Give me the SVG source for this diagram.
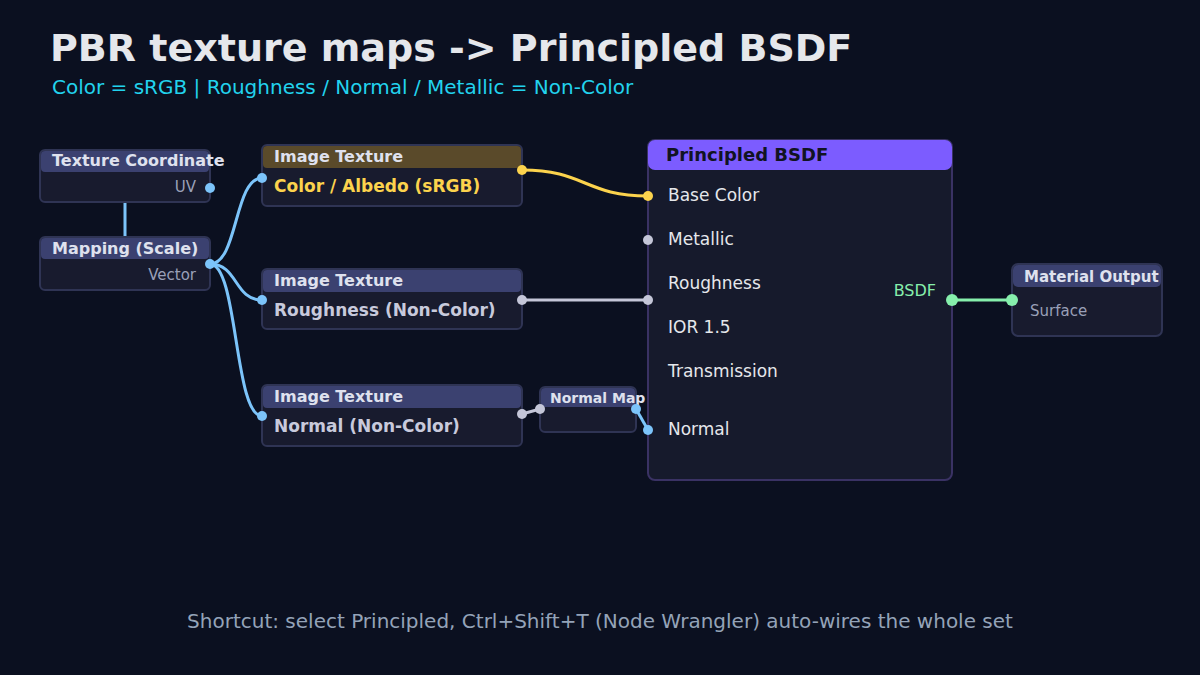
<svg xmlns="http://www.w3.org/2000/svg" width="1200" height="675" viewBox="0 0 1200 675">
<style>
text{font-family:"DejaVu Sans","Liberation Sans",sans-serif}
.hdr{fill:#3b4170}
.body{fill:#181b2e;stroke:#2f3454;stroke-width:2}
.ht{font-size:16px;font-weight:bold;fill:#dfe1ee}
.lbl{font-size:17px;fill:#e5e7eb}
.sub{font-size:15px;fill:#9aa0b8}
.w{fill:none;stroke-width:3}
</style>
<rect width="1200" height="675" fill="#0b1020"/>
<text x="50" y="61" font-size="38" font-weight="bold" fill="#e5e7eb">PBR texture maps -&gt; Principled BSDF</text>
<text x="52" y="94" font-size="20" fill="#22d3ee">Color = sRGB | Roughness / Normal / Metallic = Non-Color</text>

<g id="connectors">
<line x1="125" y1="202" x2="125" y2="237" stroke="#7cc4fa" stroke-width="3"/>
<path class="w" stroke="#7cc4fa" d="M210,264 C238,264 234,178 262,178"/>
<path class="w" stroke="#7cc4fa" d="M210,264 C238,264 234,300 262,300"/>
<path class="w" stroke="#7cc4fa" d="M210,264 C238,264 234,416 262,416"/>
<path class="w" stroke="#fcd34d" d="M522,170 C585,170 585,196 648,196"/>
<line x1="522" y1="300" x2="648" y2="300" stroke="#c4c6d8" stroke-width="3"/>
<line x1="522" y1="414" x2="540" y2="409" stroke="#c4c6d8" stroke-width="3"/>
<line x1="636" y1="409" x2="648" y2="430" stroke="#7cc4fa" stroke-width="3"/>
<line x1="952" y1="300" x2="1012" y2="300" stroke="#86efac" stroke-width="3"/>
</g>

<g id="texcoord">
<rect class="body" x="40" y="150" width="170" height="52" rx="5"/>
<rect class="hdr" x="41" y="151" width="168" height="21" rx="4"/>
<text class="ht" x="52" y="166">Texture Coordinate</text>
<text class="sub" x="196" y="192" text-anchor="end">UV</text>
<circle cx="210" cy="188" r="5" fill="#7cc4fa"/>
</g>

<g id="mapping">
<rect class="body" x="40" y="237" width="170" height="53" rx="5"/>
<rect class="hdr" x="41" y="238" width="168" height="21" rx="4"/>
<text class="ht" x="52" y="254">Mapping (Scale)</text>
<text class="sub" x="196" y="280" text-anchor="end">Vector</text>
<circle cx="210" cy="264" r="5" fill="#7cc4fa"/>
</g>

<g id="img-color">
<rect class="body" x="262" y="145" width="260" height="61" rx="5"/>
<rect x="263" y="146" width="258" height="22" rx="4" fill="#5a4a2a"/>
<text class="ht" x="274" y="162">Image Texture</text>
<text x="274" y="192" font-size="17" font-weight="bold" fill="#fcd34d">Color / Albedo (sRGB)</text>
<circle cx="262" cy="178" r="5" fill="#7cc4fa"/>
<circle cx="522" cy="170" r="5" fill="#fcd34d"/>
</g>

<g id="img-rough">
<rect class="body" x="262" y="269" width="260" height="60" rx="5"/>
<rect class="hdr" x="263" y="270" width="258" height="22" rx="4"/>
<text class="ht" x="274" y="286">Image Texture</text>
<text x="274" y="316" font-size="17" font-weight="bold" fill="#c8cadc">Roughness (Non-Color)</text>
<circle cx="262" cy="300" r="5" fill="#7cc4fa"/>
<circle cx="522" cy="300" r="5" fill="#c4c6d8"/>
</g>

<g id="img-normal">
<rect class="body" x="262" y="385" width="260" height="61" rx="5"/>
<rect class="hdr" x="263" y="386" width="258" height="22" rx="4"/>
<text class="ht" x="274" y="402">Image Texture</text>
<text x="274" y="432" font-size="17" font-weight="bold" fill="#c8cadc">Normal (Non-Color)</text>
<circle cx="262" cy="416" r="5" fill="#7cc4fa"/>
<circle cx="522" cy="414" r="5" fill="#c4c6d8"/>
</g>

<g id="normalmap">
<rect class="body" x="540" y="387" width="96" height="45" rx="5"/>
<rect class="hdr" x="541" y="388" width="94" height="19" rx="4"/>
<text x="550" y="403" font-size="14" font-weight="bold" fill="#dfe1ee">Normal Map</text>
<circle cx="540" cy="409" r="5" fill="#c4c6d8"/>
<circle cx="636" cy="409" r="5" fill="#7cc4fa"/>
</g>

<g id="principled">
<rect x="648" y="140" width="304" height="340" rx="7" fill="#161a2c" stroke="#3a3264" stroke-width="2"/>
<rect x="648" y="140" width="304" height="30" rx="7" fill="#7c5cff"/>
<text x="666" y="161" font-size="18" font-weight="bold" fill="#111322">Principled BSDF</text>
<text class="lbl" x="668" y="201">Base Color</text>
<text class="lbl" x="668" y="245">Metallic</text>
<text class="lbl" x="668" y="289">Roughness</text>
<text class="lbl" x="668" y="333">IOR 1.5</text>
<text class="lbl" x="668" y="377">Transmission</text>
<text class="lbl" x="668" y="435">Normal</text>
<text x="936" y="296" font-size="16" fill="#86efac" text-anchor="end">BSDF</text>
<circle cx="648" cy="196" r="5" fill="#fcd34d"/>
<circle cx="648" cy="240" r="5" fill="#c4c6d8"/>
<circle cx="648" cy="300" r="5" fill="#c4c6d8"/>
<circle cx="648" cy="430" r="5" fill="#7cc4fa"/>
<circle cx="952" cy="300" r="6" fill="#86efac"/>
</g>

<g id="output">
<rect class="body" x="1012" y="264" width="150" height="72" rx="6"/>
<rect class="hdr" x="1013" y="265" width="148" height="22" rx="5"/>
<text x="1024" y="282" font-size="15" font-weight="bold" fill="#dfe1ee">Material Output</text>
<text class="sub" x="1030" y="316" font-size="17">Surface</text>
<circle cx="1012" cy="300" r="6" fill="#86efac"/>
</g>

<text x="600" y="628" font-size="20" fill="#94a3b8" text-anchor="middle">Shortcut: select Principled, Ctrl+Shift+T (Node Wrangler) auto-wires the whole set</text>
</svg>
